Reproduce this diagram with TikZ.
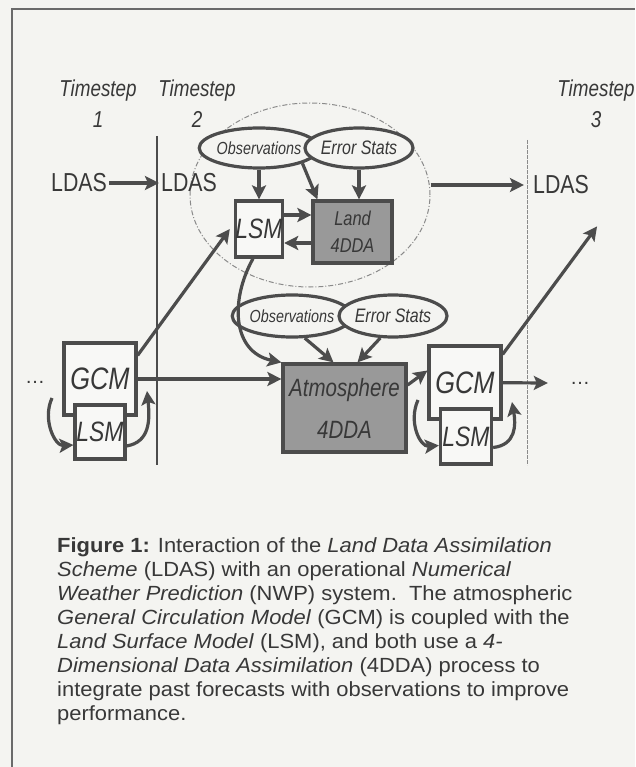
\documentclass[tikz,border=0pt]{standalone}
\usepackage{fontspec}
\setmainfont{Liberation Sans}
\newfontfamily\nar[FakeStretch=0.82]{Liberation Sans}
\newfontfamily\capfont[FakeStretch=1.07]{Liberation Sans}
\usetikzlibrary{arrows.meta,shapes.geometric}
\definecolor{bg}{HTML}{F4F4F1}
\definecolor{ink}{HTML}{4C4C4C}
\definecolor{txt}{HTML}{383838}
\definecolor{boxfill}{HTML}{F8F8F6}
\definecolor{gfill}{HTML}{999999}
\definecolor{framegray}{HTML}{6A6A6A}
\definecolor{dashgray}{HTML}{8A8A8A}
\begin{document}
\begin{tikzpicture}[x=1pt,y=-1pt,
  conn/.style={draw=ink, line width=3.2pt, -{Stealth[length=14pt,width=14pt,inset=3pt]}},
  wbox/.style={draw=ink, line width=3.2pt, fill=boxfill, inner sep=0pt, text=txt,
    font=\nar\itshape\fontsize{28}{30}\selectfont},
  bigbox/.style={wbox, font=\nar\itshape\fontsize{31}{33}\selectfont},
  gbox/.style={draw=ink, line width=3.2pt, fill=gfill, inner sep=0pt, text=txt, align=center},
  oval/.style={ellipse, draw=ink, line width=3.2pt, fill=bg, inner sep=0pt, text=txt},
  obsfont/.style={font=\nar\itshape\fontsize{17.5}{19}\selectfont},
  errfont/.style={font=\nar\itshape\fontsize{19.5}{21}\selectfont},
  ts/.style={font=\nar\itshape\fontsize{23}{31}\selectfont, align=center, inner sep=0pt, text=txt, anchor=north},
  ld/.style={font=\nar\fontsize{26}{28}\selectfont, inner sep=2pt, text=txt},
  capline/.style={font=\capfont\fontsize{20.5}{24}\selectfont, inner sep=0pt, text=txt, anchor=base west},
  dotsty/.style={font=\fontsize{20}{22}\selectfont, inner sep=0pt, text=txt}
]
\useasboundingbox (0,0) rectangle (635,767);
\fill[bg] (0,0) rectangle (635,767);
% frame
\draw[framegray, line width=2pt] (12,767) -- (12,9) -- (635,9);
% dividers
\draw[ink, line width=1.2pt] (157,136) -- (157,465);
\draw[dashgray, line width=0.9pt, dash pattern=on 4pt off 1pt] (527,140) -- (527,465);
% land assimilation region
\node[ellipse, draw=dashgray, line width=1pt, dash pattern=on 5pt off 2pt on 1pt off 2pt,
  minimum width=240pt, minimum height=184pt] (landcirc) at (310,195) {};

% timestep labels
\node[ts] (ts1) at (98,80) {Timestep\\1};
\node[ts] (ts2) at (197,80) {Timestep\\2};
\node[ts] (ts3) at (596,80) {Timestep\\3};

% LDAS labels
\node[ld] (ldas1) at (79,183) {LDAS};
\node[ld] (ldas2) at (189,183) {LDAS};
\node[ld] (ldas3) at (561,185) {LDAS};

% land 4DDA cluster
\node[oval, obsfont, minimum width=90pt, minimum height=40pt] (obs1) at (259,148) {Observations};
\node[oval, errfont, minimum width=94pt, minimum height=40pt] (err1) at (359,148) {Error Stats};
\node[wbox, minimum width=46pt, minimum height=56pt] (lsm1) at (259,229) {LSM};
\node[gbox, minimum width=79pt, minimum height=62pt,
  font=\nar\itshape\fontsize{20}{27}\selectfont] (land) at (352.5,232) {Land\\4DDA};

% atmosphere cluster
\node[oval, obsfont, minimum width=88pt, minimum height=42pt] (obs2) at (292,316) {Observations};
\node[oval, errfont, minimum width=95pt, minimum height=42pt] (err2) at (393,316) {Error Stats};
\node[gbox, minimum width=123pt, minimum height=88pt,
  font=\nar\itshape\fontsize{25}{42}\selectfont] (atm) at (344.5,408) {Atmosphere\\4DDA};

% GCM / LSM pairs
\node[bigbox, minimum width=72pt, minimum height=72pt] (gcm1) at (100,379) {GCM};
\node[wbox, minimum width=50pt, minimum height=54pt] (lsm2) at (100,432) {LSM};
\node[bigbox, minimum width=72pt, minimum height=73pt] (gcm2) at (465,382.5) {GCM};
\node[wbox, minimum width=51pt, minimum height=55pt] (lsm3) at (466,436.5) {LSM};

\node[dotsty] (dots1) at (35,382) {\dots};
\node[dotsty] (dots2) at (580,383) {\dots};

% connectors
\draw[conn] (ldas1) -- (ldas2);
\draw[conn, shorten >=7pt] (landcirc.east |- ldas3) -- (ldas3);
\draw[conn] (obs1) -- (lsm1);
\draw[conn] (obs1.south east) -- ([xshift=6pt]land.north west);
\draw[conn] (err1) -- (err1 |- land.north);
\draw[conn] ([yshift=14pt]lsm1.east) -- ([yshift=17pt]land.west);
\draw[conn] ([yshift=-11pt]land.west) -- ([yshift=-14pt]lsm1.east);
\draw[conn] ([xshift=-6pt]lsm1.south) .. controls (230,300) and (232,352) .. (atm.north west);
\draw[conn] (obs2.300) -- ([xshift=-11pt]atm.north);
\draw[conn] (err2.240) -- ([xshift=13pt]atm.north);
\draw[conn] (gcm1) -- (gcm1 -| atm.west);
\draw[conn] ([yshift=-14pt]gcm1.north east) -- ([xshift=-4pt]lsm1.west);
\draw[conn] ([yshift=23pt]atm.east) -- ([yshift=12pt]gcm2.west);
\draw[conn] (gcm2) -- ([xshift=-22pt]dots2.west);
\draw[conn] ([yshift=-10pt]gcm2.north east) -- ([shift={(6pt,-30pt)}]ldas3.south east);

% coupling loops
\coordinate (l1a) at (52,398);
\coordinate (r1b) at (147,391);
\coordinate (l2a) at (418,400);
\coordinate (r2b) at (512,402);
\draw[conn] (l1a) .. controls (42,420) and (55,446) .. ([yshift=-13pt]lsm2.west);
\draw[conn] ([yshift=-14pt]lsm2.east) .. controls (150,442) and (150,420) .. (r1b);
\draw[conn] (l2a) .. controls (408,422) and (420,447) .. ([yshift=-9pt]lsm3.west);
\draw[conn] ([yshift=-11pt]lsm3.east) .. controls (516,445) and (516,425) .. (r2b);

% caption
\node[capline] (cap1) at (57,552.0) {\textbf{Figure 1:} Interaction of the \textit{Land Data Assimilation}};
\node[capline] (cap2) at (57,576.1) {\textit{Scheme} (LDAS) with an operational \textit{Numerical}};
\node[capline] (cap3) at (57,600.2) {\textit{Weather Prediction} (NWP) system.\ \ The atmospheric};
\node[capline] (cap4) at (57,624.3) {\textit{General Circulation Model} (GCM) is coupled with the};
\node[capline] (cap5) at (57,648.4) {\textit{Land Surface Model} (LSM), and both use a \textit{4-}};
\node[capline] (cap6) at (57,672.5) {\textit{Dimensional Data Assimilation} (4DDA) process to};
\node[capline] (cap7) at (57,696.6) {integrate past forecasts with observations to improve};
\node[capline] (cap8) at (57,720.7) {performance.};
\end{tikzpicture}
\end{document}
